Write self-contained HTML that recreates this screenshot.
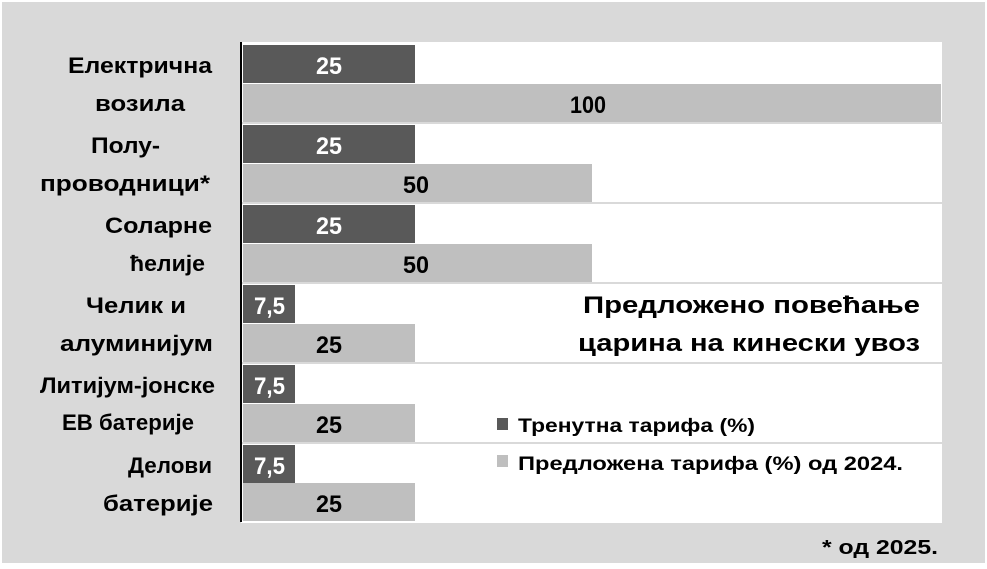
<!DOCTYPE html>
<html><head><meta charset="utf-8"><style>
html,body{margin:0;padding:0;background:#fff;}
svg{display:block;}
.lab{font-family:"Liberation Sans","DejaVu Sans",sans-serif;font-weight:bold;font-size:22px;fill:#000;}
.num{font-family:"Liberation Sans Narrow","Liberation Sans",sans-serif;font-weight:bold;font-size:24px;}
.t{font-family:"Liberation Sans","DejaVu Sans",sans-serif;font-weight:bold;fill:#000;}
</style></head><body>
<svg width="987" height="569" viewBox="0 0 987 569" xmlns="http://www.w3.org/2000/svg">
<rect x="0" y="0" width="987" height="569" fill="#fff"/>
<rect x="2" y="2" width="983" height="561" fill="#d9d9d9"/>
<rect x="241" y="42" width="701" height="481" fill="#fff"/>
<g stroke="#d9d9d9" stroke-width="2">
<line x1="241" y1="123" x2="942" y2="123"/><line x1="241" y1="203" x2="942" y2="203"/>
<line x1="241" y1="283" x2="942" y2="283"/><line x1="241" y1="363" x2="942" y2="363"/>
<line x1="241" y1="443" x2="942" y2="443"/>
</g>
<g fill="#595959">
<rect x="243" y="45" width="172" height="38"/><rect x="243" y="125" width="172" height="38"/>
<rect x="243" y="205" width="172" height="38"/><rect x="243" y="285" width="52" height="38"/>
<rect x="243" y="365" width="52" height="38"/><rect x="243" y="445" width="52" height="38"/>
</g>
<g fill="#bfbfbf">
<rect x="243" y="84" width="698" height="38"/><rect x="243" y="164" width="349" height="38"/>
<rect x="243" y="244" width="349" height="38"/><rect x="243" y="324" width="172" height="38"/>
<rect x="243" y="404" width="172" height="38"/><rect x="243" y="483" width="172" height="38"/>
</g>
<line x1="241" y1="42" x2="241" y2="522" stroke="#000" stroke-width="2"/>
<g class="num" fill="#fff">
<text x="316" y="74" textLength="26" lengthAdjust="spacingAndGlyphs">25</text>
<text x="316" y="154" textLength="26" lengthAdjust="spacingAndGlyphs">25</text>
<text x="316" y="234" textLength="26" lengthAdjust="spacingAndGlyphs">25</text>
<text x="254" y="314" textLength="31" lengthAdjust="spacingAndGlyphs">7,5</text>
<text x="254" y="394" textLength="31" lengthAdjust="spacingAndGlyphs">7,5</text>
<text x="254" y="474" textLength="31" lengthAdjust="spacingAndGlyphs">7,5</text>
</g>
<g class="num" fill="#000">
<text x="570" y="113" textLength="36" lengthAdjust="spacingAndGlyphs">100</text>
<text x="403" y="193" textLength="26" lengthAdjust="spacingAndGlyphs">50</text>
<text x="403" y="273" textLength="26" lengthAdjust="spacingAndGlyphs">50</text>
<text x="316" y="353" textLength="26" lengthAdjust="spacingAndGlyphs">25</text>
<text x="316" y="433" textLength="26" lengthAdjust="spacingAndGlyphs">25</text>
<text x="316" y="512" textLength="26" lengthAdjust="spacingAndGlyphs">25</text>
</g>
<g class="lab">
<text x="68" y="73" textLength="144" lengthAdjust="spacingAndGlyphs">Електрична</text>
<text x="95" y="111" textLength="90" lengthAdjust="spacingAndGlyphs">возила</text>
<text x="91" y="153" textLength="69" lengthAdjust="spacingAndGlyphs">Полу-</text>
<text x="40" y="191" textLength="170" lengthAdjust="spacingAndGlyphs">проводници*</text>
<text x="105" y="233" textLength="107" lengthAdjust="spacingAndGlyphs">Соларне</text>
<text x="130" y="271" textLength="75" lengthAdjust="spacingAndGlyphs">ћелије</text>
<text x="86" y="313" textLength="100" lengthAdjust="spacingAndGlyphs">Челик и</text>
<text x="60" y="351" textLength="153" lengthAdjust="spacingAndGlyphs">алуминијум</text>
<text x="40" y="393" textLength="175" lengthAdjust="spacingAndGlyphs">Литијум-јонске</text>
<text x="62" y="430" textLength="132" lengthAdjust="spacingAndGlyphs">ЕВ батерије</text>
<text x="128" y="473" textLength="84" lengthAdjust="spacingAndGlyphs">Делови</text>
<text x="103" y="511" textLength="110" lengthAdjust="spacingAndGlyphs">батерије</text>
</g>
<text class="t" x="583" y="313" font-size="24" textLength="337" lengthAdjust="spacingAndGlyphs">Предложено повећање</text>
<text class="t" x="578" y="351" font-size="24" textLength="342" lengthAdjust="spacingAndGlyphs">царина на кинески увоз</text>
<rect x="497" y="418" width="11" height="12" fill="#595959"/>
<rect x="497" y="455" width="11" height="12" fill="#bfbfbf"/>
<text class="t" x="518" y="432" font-size="19" textLength="237" lengthAdjust="spacingAndGlyphs">Тренутна тарифа (%)</text>
<text class="t" x="518" y="470" font-size="19" textLength="385" lengthAdjust="spacingAndGlyphs">Предложена тарифа (%) од 2024.</text>
<text class="t" x="822" y="554" font-size="20" textLength="116" lengthAdjust="spacingAndGlyphs">* од 2025.</text>
</svg>
</body></html>
